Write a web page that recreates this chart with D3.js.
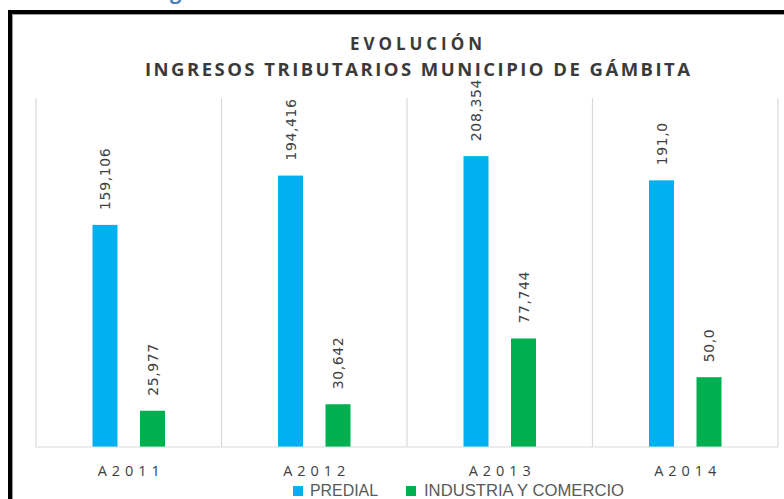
<!DOCTYPE html>
<html>
<head>
<meta charset="utf-8">
<script src="https://cdn.jsdelivr.net/npm/d3@7"></script>
<style>
  html, body { margin: 0; padding: 0; background: #fff; }
  svg { display: block; }
</style>
</head>
<body>
<svg id="chart" width="784" height="499"></svg>
<script>
// Tax revenue by year (values in millions, comma as decimal mark)
const years = ["A2011", "A2012", "A2013", "A2014"];
const predial = [159.106, 194.416, 208.354, 191.0];
const predialDecimals = [3, 3, 3, 1];
const industria = [25.977, 30.642, 77.744, 50.0];
const industriaDecimals = [3, 3, 3, 1];
const seriesNames = ["PREDIAL", "INDUSTRIA Y COMERCIO"];
const seriesColors = ["#00B0F0", "#00B050"];

const fmt = (v, d) => v.toFixed(d).replace(".", ",");

const svg = d3.select("#chart");
const W = 784, H = 499;

// heading fragment above the frame
svg.append("text")
  .attr("x", 170).attr("y", -1)
  .attr("font-family", "Open Sans").attr("font-weight", "bold")
  .attr("font-size", 20).attr("fill", "#4a7ebb")
  .text("g");

// chart frame
svg.append("path")
  .attr("d", `M10,${H + 5} V12 H${W + 5}`)
  .attr("fill", "none").attr("stroke", "#000").attr("stroke-width", 4);
svg.append("path")
  .attr("d", `M12.5,${H + 5} V14.5 H${W + 5}`)
  .attr("fill", "none").attr("stroke", "#9a9a9a").attr("stroke-width", 1);

// title
const title = svg.append("g")
  .attr("font-family", "Open Sans").attr("font-weight", "bold")
  .attr("fill", "#3a3a3a").attr("text-anchor", "middle");
title.append("text")
  .attr("x", 416).attr("y", 49.5).attr("font-size", 17)
  .attr("textLength", 132).attr("lengthAdjust", "spacing")
  .text("EVOLUCIÓN");
title.append("text")
  .attr("x", 417.5).attr("y", 76).attr("font-size", 18.5)
  .attr("textLength", 545).attr("lengthAdjust", "spacing")
  .text("INGRESOS  TRIBUTARIOS MUNICIPIO DE GÁMBITA");

// plot area
const plotLeft = 36, plotRight = 778, plotTop = 98, plotBottom = 447;
const x = d3.scaleBand().domain(years).range([plotLeft, plotRight]).paddingInner(0).paddingOuter(0);
const y = d3.scaleLinear().domain([0, 250]).range([plotBottom, plotTop]);

// category separators
const grid = svg.append("g").attr("stroke", "#d9d9d9").attr("stroke-width", 1.2);
const edges = years.map(d => x(d)).concat([x(years[years.length - 1]) + x.bandwidth()]);
grid.selectAll("line").data(edges).join("line")
  .attr("x1", d => d).attr("x2", d => d)
  .attr("y1", y(250)).attr("y2", plotBottom);

// bars
const barW = 25;
const offsets = [-23.75, 23.75];
const series = [
  { name: seriesNames[0], values: predial, dec: predialDecimals, color: seriesColors[0] },
  { name: seriesNames[1], values: industria, dec: industriaDecimals, color: seriesColors[1] }
];

series.forEach((s, si) => {
  const g = svg.append("g");
  const cx = i => x(years[i]) + x.bandwidth() / 2 + offsets[si];
  g.selectAll("rect").data(s.values).join("rect")
    .attr("x", (d, i) => cx(i) - barW / 2)
    .attr("width", barW)
    .attr("y", d => y(d))
    .attr("height", d => plotBottom - y(d))
    .attr("fill", s.color);
  g.selectAll("text").data(s.values).join("text")
    .attr("transform", (d, i) => `translate(${cx(i)},${y(d) - 15}) rotate(-90)`)
    .attr("text-anchor", "start")
    .attr("dominant-baseline", "central")
    .attr("font-family", "DejaVu Sans").attr("font-size", 14)
    .attr("letter-spacing", 0.6)
    .attr("fill", "#404040")
    .text((d, i) => fmt(d, s.dec[i]));
});

// baseline
svg.append("line")
  .attr("x1", plotLeft).attr("x2", plotRight).attr("y1", plotBottom).attr("y2", plotBottom)
  .attr("stroke", "#d9d9d9").attr("stroke-width", 1.2);

// category axis labels
const xAxis = d3.axisBottom(x).tickSize(0).tickPadding(0);
const ax = svg.append("g").attr("transform", `translate(0,${plotBottom})`).call(xAxis);
ax.select(".domain").remove();
ax.selectAll("text")
  .attr("y", 28.5).attr("dy", 0)
  .attr("font-family", "Open Sans").attr("font-size", 14.5)
  .attr("fill", "#404040")
  .attr("textLength", 62).attr("lengthAdjust", "spacing");

// legend
const legendItems = [
  { sx: 293, tx: 310, len: 68 },
  { sx: 406, tx: 424, len: 200 }
];
const lg = svg.append("g");
legendItems.forEach((it, i) => {
  lg.append("rect").attr("x", it.sx).attr("y", 486).attr("width", 10).attr("height", 10)
    .attr("fill", seriesColors[i]);
  lg.append("text").attr("x", it.tx).attr("y", 496)
    .attr("font-family", "Liberation Sans").attr("font-size", 16)
    .attr("fill", "#595959")
    .attr("textLength", it.len).attr("lengthAdjust", "spacingAndGlyphs")
    .text(seriesNames[i]);
});
</script>
</body>
</html>
